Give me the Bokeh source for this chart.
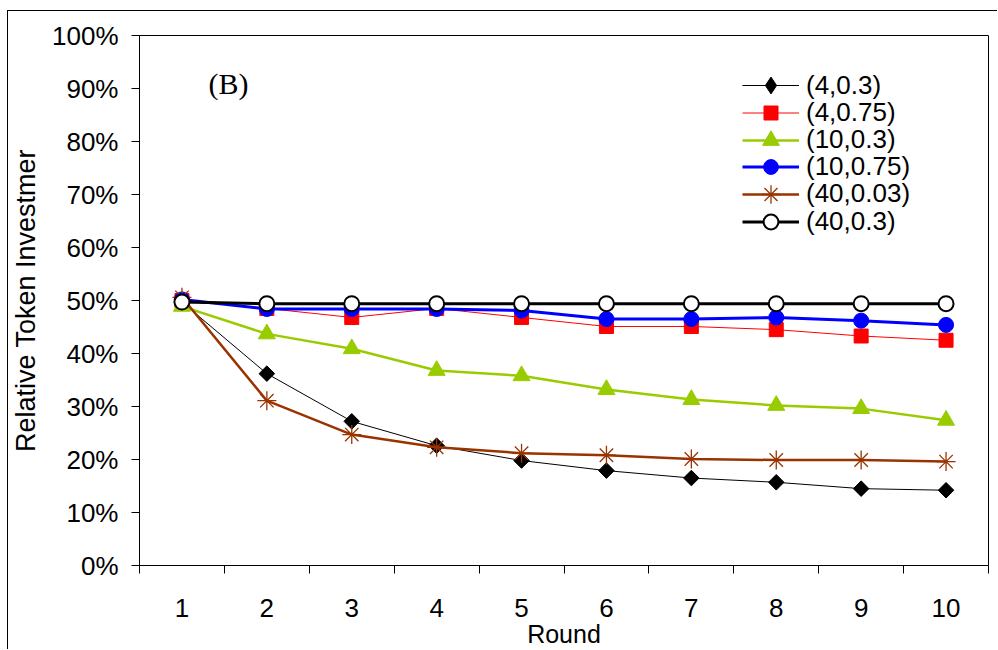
import numpy as np
from bokeh.plotting import figure
from bokeh.models import (Range1d, FixedTicker, NumeralTickFormatter, Legend,
                          LegendItem, Label)
from bokeh.embed import file_html
from bokeh.resources import INLINE

# ---------------- data (percent) ----------------
rounds = [1, 2, 3, 4, 5, 6, 7, 8, 9, 10]
s_4_03 = [49.7, 36.2, 27.2, 22.6, 19.8, 17.9, 16.5, 15.7, 14.5, 14.2]
s_4_075 = [50.0, 48.5, 46.8, 48.5, 46.8, 45.1, 45.1, 44.5, 43.3, 42.5]
s_10_03 = [48.9, 43.7, 40.9, 36.8, 35.8, 33.2, 31.3, 30.2, 29.6, 27.4]
s_10_075 = [50.2, 48.4, 48.4, 48.4, 48.1, 46.5, 46.5, 46.8, 46.2, 45.4]
s_40_003 = [50.6, 31.1, 24.7, 22.3, 21.2, 20.8, 20.1, 19.9, 19.9, 19.6]
s_40_03 = [49.7, 49.4, 49.4, 49.4, 49.4, 49.4, 49.4, 49.4, 49.4, 49.4]
series_labels = ["(4,0.3)", "(4,0.75)", "(10,0.3)", "(10,0.75)", "(40,0.03)", "(40,0.3)"]
y_ticks = [0, 10, 20, 30, 40, 50, 60, 70, 80, 90, 100]

series_values = [s_4_03, s_4_075, s_10_03, s_10_075, s_40_003, s_40_03]

# ---------------- styles ----------------
styles = [
    dict(color="black", lw=1, marker="square", size=11, angle=np.pi / 4, fill="black", mlw=1,
         leg_marker="diamond", gh=42),
    dict(color="#FF0000", lw=1, marker="square", size=14, angle=0, fill="#FF0000", mlw=1,
         leg_marker=None, gh=35),
    dict(color="#99CC00", lw=2.5, marker="triangle", size=17, angle=0, fill="#99CC00", mlw=1,
         leg_marker=None, gh=42),
    dict(color="#0000FF", lw=3, marker="circle", size=15, angle=0, fill="#0000FF", mlw=1,
         leg_marker=None, gh=37),
    dict(color="#993300", lw=2.5, marker="asterisk", size=19, angle=0, fill="#993300", mlw=1.3,
         leg_marker=None, gh=46),
    dict(color="black", lw=3, marker="circle", size=15, angle=0, fill="white", mlw=2,
         leg_marker=None, gh=37),
]
legend_centers = [85, 112.5, 139.5, 166.5, 193.5, 221]

FONT = "Liberation Sans"

# figure placed at (7, 10) inside the page, with a left/top border line
OX, OY = 8, 11
p = figure(width=998 - OX, height=650 - OY, x_range=Range1d(0.5, 10.5), y_range=Range1d(0, 1),
           output_backend="svg", toolbar_location=None,
           min_border_left=138 - OX, min_border_right=10, min_border_top=35 - OY,
           min_border_bottom=85)
p.margin = (OY - 1, 0, 0, OX - 1)
p.styles = {"border-top": "1px solid black", "border-left": "1px solid black"}
p.xgrid.visible = False
p.ygrid.visible = False
p.outline_line_color = "black"
p.outline_line_width = 1
p.outline_line_alpha = 1
p.background_fill_color = "white"
p.border_fill_color = "white"

# x axis
xa = p.xaxis[0]
xa.ticker = FixedTicker(ticks=rounds, minor_ticks=[r - 0.5 for r in rounds] + [rounds[-1] + 0.5])
xa.major_tick_out = 0
xa.major_tick_in = 0
xa.minor_tick_out = 8
xa.minor_tick_in = 0
xa.minor_tick_line_color = "black"
xa.axis_line_color = "black"
xa.major_label_text_font = FONT
xa.major_label_text_font_size = "26px"
xa.major_label_text_color = "black"
xa.major_label_standoff = 25
xa.axis_label = "Round"
xa.axis_label_text_font = FONT
xa.axis_label_text_font_size = "25px"
xa.axis_label_text_font_style = "normal"
xa.axis_label_text_color = "black"
xa.axis_label_standoff = 0

# y axis
ya = p.yaxis[0]
ya.ticker = FixedTicker(ticks=[t / 100 for t in y_ticks], minor_ticks=[])
ya.formatter = NumeralTickFormatter(format="0%")
ya.major_tick_out = 8
ya.major_tick_in = 0
ya.major_tick_line_color = "black"
ya.axis_line_color = "black"
ya.major_label_text_font = FONT
ya.major_label_text_font_size = "26px"
ya.major_label_text_color = "black"
ya.major_label_standoff = 13
ya.axis_label = "Relative Token Investmer"
ya.axis_label_text_font = FONT
ya.axis_label_text_font_size = "27px"
ya.axis_label_text_font_style = "normal"
ya.axis_label_text_color = "black"
ya.axis_label_standoff = 8

renderers = []
for vals, st in zip(series_values, styles):
    y = np.array(vals) / 100.0
    lr = p.line(rounds, y, line_color=st["color"], line_width=st["lw"])
    sr = p.scatter(rounds, y, marker=st["marker"], size=st["size"], angle=st["angle"],
                   fill_color=st["fill"], line_color=st["color"], line_width=st["mlw"])
    if st["leg_marker"]:
        # hidden twin renderer, used only for the legend swatch shape
        sr = p.scatter(rounds, y, marker=st["leg_marker"], size=st["size"],
                       fill_color=st["fill"], line_color=st["color"], line_width=st["mlw"],
                       visible=False)
    renderers.append((lr, sr))

# legends (one per entry, so each marker gets its own size)
for lab, (lr, sr), st, cy in zip(series_labels, renderers, styles, legend_centers):
    gh = st["gh"]
    vy = (565 - OY) - (cy - OY) - gh / 2
    leg = Legend(items=[LegendItem(label=lab, renderers=[lr, sr])],
                 location=(603, vy), glyph_width=57, glyph_height=gh,
                 label_height=gh, padding=0, margin=0, spacing=0,
                 label_standoff=7, border_line_alpha=0, border_line_width=0,
                 background_fill_alpha=0, label_text_font=FONT,
                 label_text_font_size="26px", label_text_color="black")
    p.add_layout(leg)

p.add_layout(Label(x=69, y=482, x_units="screen", y_units="screen", text="(B)",
                   text_font="Liberation Serif", text_font_size="30px",
                   text_baseline="middle", text_align="left", text_color="black"))

open("out.html", "w").write(file_html(p, INLINE))
